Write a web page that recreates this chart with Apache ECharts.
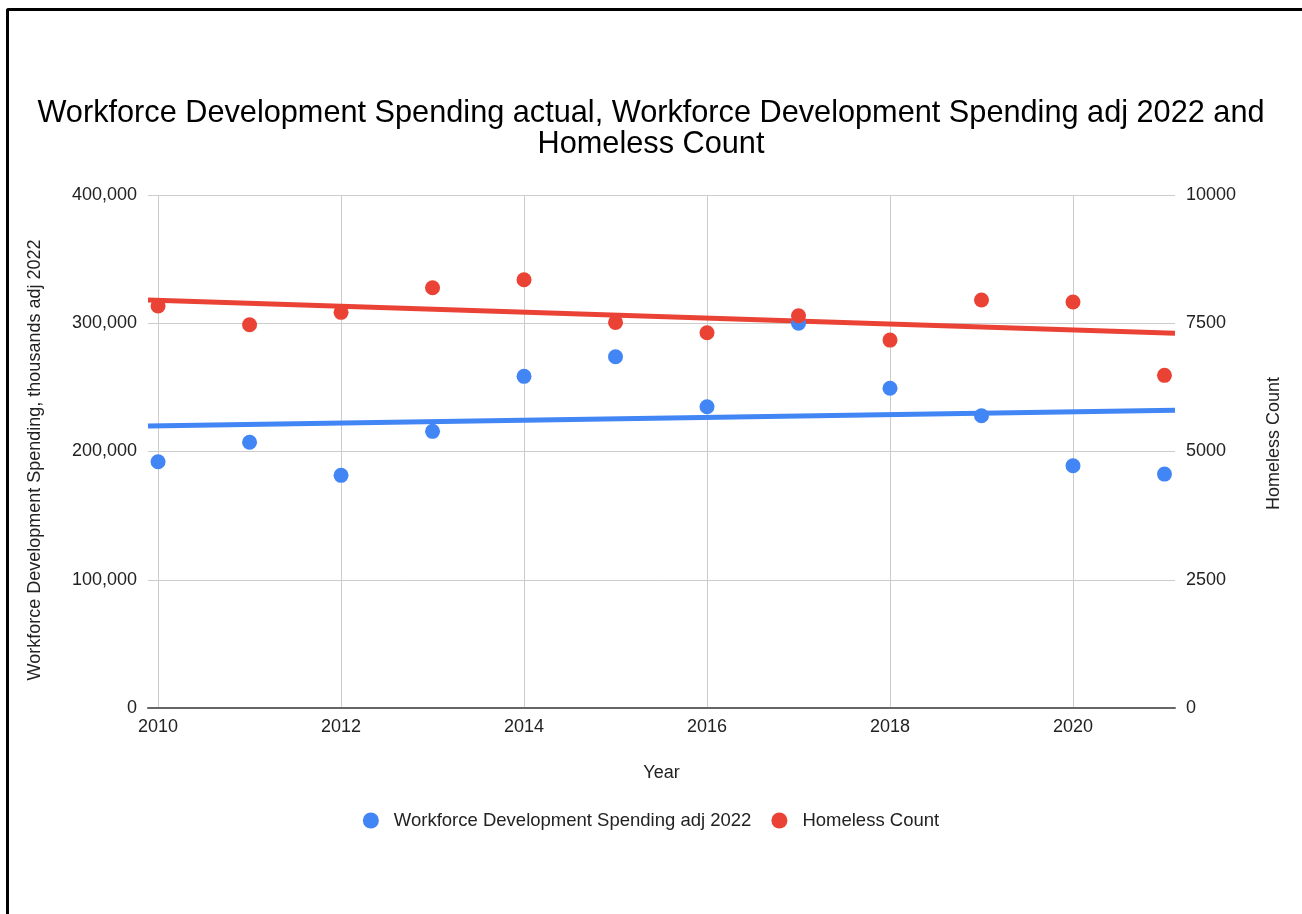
<!DOCTYPE html>
<html>
<head>
<meta charset="utf-8">
<title>Workforce Development Spending and Homeless Count</title>
<script src="https://cdn.jsdelivr.net/npm/echarts@6/dist/echarts.min.js"></script>
<style>
  html, body { margin: 0; padding: 0; background: #fff; }
  #frame {
    position: absolute; left: 6px; top: 8px; width: 1400px; height: 1000px;
    border-top: 3px solid #000; border-left: 3px solid #000;
    border-top-left-radius: 3px; box-sizing: border-box;
  }
  #chart { position: absolute; left: 0; top: 0; width: 1302px; height: 914px; }
</style>
</head>
<body>
<div id="frame"></div>
<div id="chart"></div>
<script>
// Yearly values
const years = [2010, 2011, 2012, 2013, 2014, 2015, 2016, 2017, 2018, 2019, 2020, 2021];
// Workforce development spending, thousands of 2022 dollars (left axis)
const spendingAdj2022 = [192000, 207200, 181400, 215700, 258600, 273900, 234900, 300000, 249300, 227900, 188900, 182400];
// Homeless count (right axis)
const homelessCount = [7835, 7471, 7712, 8192, 8348, 7517, 7315, 7647, 7172, 7952, 7913, 6484];

const yearTicks = [2010, 2012, 2014, 2016, 2018, 2020];
const leftTicks = [0, 100000, 200000, 300000, 400000];
const rightTicks = [0, 2500, 5000, 7500, 10000];

// The plot area runs a little past the first and last year
const xMin = 2009.89, xMax = 2021.115;
const FONT = '"Liberation Sans", Arial, Helvetica, sans-serif';

// Least-squares linear trend across the x range
function trend(xs, ys) {
  const n = xs.length;
  const mx = xs.reduce((a, b) => a + b, 0) / n;
  const my = ys.reduce((a, b) => a + b, 0) / n;
  let sxy = 0, sxx = 0;
  for (let i = 0; i < n; i++) {
    sxy += (xs[i] - mx) * (ys[i] - my);
    sxx += (xs[i] - mx) * (xs[i] - mx);
  }
  const b = sxy / sxx, a = my - b * mx;
  return [[xMin, a + b * xMin], [xMax, a + b * xMax]];
}

const blue = '#4285F4', red = '#EA4335';

const chart = echarts.init(document.getElementById('chart'), null, { renderer: 'canvas' });
chart.setOption({
  backgroundColor: 'transparent',
  animation: false,
  textStyle: { fontFamily: FONT },
  title: {
    text: 'Workforce Development Spending actual, Workforce Development Spending adj 2022 and\nHomeless Count',
    left: 'center', top: 93,
    textStyle: { fontFamily: FONT, fontSize: 30.7, fontWeight: 'normal', color: '#000', lineHeight: 31 }
  },
  legend: {
    data: ['Workforce Development Spending adj 2022', 'Homeless Count'],
    left: 'center', top: 806,
    icon: 'circle', itemWidth: 36, itemHeight: 16, itemGap: 20,
    textStyle: { fontFamily: FONT, fontSize: 18.5, color: '#222' }
  },
  grid: { left: 148, right: 127, top: 195, bottom: 206, containLabel: false },
  xAxis: {
    type: 'value', min: xMin, max: xMax,
    name: 'Year', nameLocation: 'middle', nameGap: 56,
    nameTextStyle: { fontFamily: FONT, fontSize: 18, color: '#222' },
    axisLine: { show: true, onZero: false, lineStyle: { color: '#666', width: 2 } },
    axisTick: { show: false, customValues: yearTicks },
    axisLabel: {
      fontFamily: FONT, fontSize: 18, color: '#222', margin: 10,
      customValues: yearTicks,
      formatter: v => String(Math.round(v))
    },
    splitLine: { show: true, lineStyle: { color: '#cccccc', width: 1 } }
  },
  yAxis: [
    {
      type: 'value', min: leftTicks[0], max: leftTicks[leftTicks.length - 1], interval: leftTicks[1] - leftTicks[0],
      position: 'left',
      name: 'Workforce Development Spending, thousands adj 2022',
      nameLocation: 'middle', nameGap: 104, nameRotate: 90,
      nameTextStyle: { fontFamily: FONT, fontSize: 18, color: '#222', padding: [0, 17, 0, 0] },
      axisLine: { show: false }, axisTick: { show: false },
      axisLabel: {
        fontFamily: FONT, fontSize: 18, color: '#222', margin: 11,
        formatter: v => v.toLocaleString('en-US')
      },
      splitLine: { show: true, lineStyle: { color: '#cccccc', width: 1 } }
    },
    {
      type: 'value', min: rightTicks[0], max: rightTicks[rightTicks.length - 1], interval: rightTicks[1] - rightTicks[0],
      position: 'right',
      name: 'Homeless Count',
      nameLocation: 'middle', nameGap: 90, nameRotate: 90,
      nameTextStyle: { fontFamily: FONT, fontSize: 18, color: '#222', padding: [0, 0, 0, 16] },
      axisLine: { show: false }, axisTick: { show: false },
      axisLabel: { fontFamily: FONT, fontSize: 18, color: '#222', margin: 11, formatter: v => String(v) },
      splitLine: { show: false }
    }
  ],
  series: [
    {
      name: 'Workforce Development Spending adj 2022 trend', type: 'line', yAxisIndex: 0,
      data: trend(years, spendingAdj2022), symbol: 'none', silent: true, z: 2,
      lineStyle: { color: blue, width: 5 }
    },
    {
      name: 'Homeless Count trend', type: 'line', yAxisIndex: 1,
      data: trend(years, homelessCount), symbol: 'none', silent: true, z: 2,
      lineStyle: { color: red, width: 5 }
    },
    {
      name: 'Workforce Development Spending adj 2022', type: 'scatter', yAxisIndex: 0,
      data: years.map((y, i) => [y, spendingAdj2022[i]]),
      symbolSize: 15, itemStyle: { color: blue, opacity: 1 }, z: 3
    },
    {
      name: 'Homeless Count', type: 'scatter', yAxisIndex: 1,
      data: years.map((y, i) => [y, homelessCount[i]]),
      symbolSize: 15, itemStyle: { color: red, opacity: 1 }, z: 4
    }
  ]
});
</script>
</body>
</html>
